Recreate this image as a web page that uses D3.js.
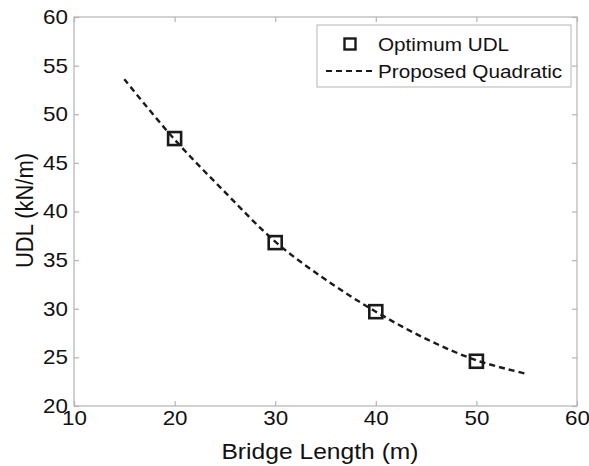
<!DOCTYPE html>
<html><head><meta charset="utf-8">
<script src="https://cdn.jsdelivr.net/npm/d3@7"></script>
<style>body{margin:0;background:#fff}svg{display:block}text{font-family:"Liberation Sans",Arial,sans-serif;fill:#111}</style>
</head><body><svg id="c" width="589" height="466"></svg>
<script>
const markerX = [20, 30, 40, 50];
const markerY = [47.5, 36.8, 29.7, 24.6];
const curveX = [15, 20, 25, 30, 35, 40, 45, 50, 55];
const curveY = [53.6, 47.4, 42.0, 36.9, 33.0, 29.7, 26.9, 24.7, 23.3];
const xTicks = [10, 20, 30, 40, 50, 60];
const yTicks = [20, 25, 30, 35, 40, 45, 50, 55, 60];
const legendLabels = ["Optimum UDL", "Proposed Quadratic"];
const xLabel = "Bridge Length (m)";
const yLabel = "UDL (kN/m)";

const svg = d3.select("#c");
const L = 74, R = 577, T = 17, B = 406;
const SX = 1.12;
const x = d3.scaleLinear().domain([10, 60]).range([L, R]);
const y = d3.scaleLinear().domain([20, 60]).range([B, T]);
const axisCol = "#b4b4b4";

function stretch(sel) {
  sel.each(function () {
    const t = d3.select(this);
    const ax = +t.attr("x") || 0;
    t.attr("transform", `translate(${ax},0) scale(${SX},1) translate(${-ax},0)`);
  });
}

svg.append("rect").attr("x", L).attr("y", T).attr("width", R - L).attr("height", B - T)
  .attr("fill", "none").attr("stroke", axisCol).attr("stroke-width", 1.2);

function styleAxis(g, hideLabels) {
  g.select(".domain").remove();
  g.selectAll(".tick line").attr("stroke", axisCol).attr("stroke-width", 1.2);
  g.selectAll(".tick text").style("font-size", "20px").attr("fill", "#111").call(stretch);
  if (hideLabels) g.selectAll(".tick text").remove();
}
svg.append("g").attr("transform", `translate(0,${B})`)
  .call(d3.axisBottom(x).tickValues(xTicks).tickSize(-5).tickPadding(5).tickFormat(d3.format("d")))
  .call(g => styleAxis(g, false));
svg.append("g").attr("transform", `translate(0,${T})`)
  .call(d3.axisTop(x).tickValues(xTicks).tickSize(-5).tickFormat(""))
  .call(g => styleAxis(g, true));
svg.append("g").attr("transform", `translate(${L},0)`)
  .call(d3.axisLeft(y).tickValues(yTicks).tickSize(-5).tickPadding(6).tickFormat(d3.format("d")))
  .call(g => styleAxis(g, false));
svg.append("g").attr("transform", `translate(${R},0)`)
  .call(d3.axisRight(y).tickValues(yTicks).tickSize(-5).tickFormat(""))
  .call(g => styleAxis(g, true));

svg.append("text").attr("x", 320).attr("y", 459).attr("text-anchor", "middle")
  .style("font-size", "22px").text(xLabel).call(stretch);
svg.append("text").attr("transform", `translate(33,${(T + B) / 2 - 1}) rotate(-90) scale(1,${SX})`).attr("text-anchor", "middle")
  .style("font-size", "22px").text(yLabel);

const curveData = curveX.map((v, i) => [v, curveY[i]]);
const line = d3.line().x(d => x(d[0])).y(d => y(d[1])).curve(d3.curveCatmullRom);
svg.append("path").datum(curveData).attr("d", line).attr("fill", "none")
  .attr("stroke", "#1a1a1a").attr("stroke-width", 2.4).attr("stroke-dasharray", "6,4");

const ms = 13;
svg.selectAll("rect.m").data(markerX.map((v, i) => [v, markerY[i]])).enter().append("rect")
  .attr("class", "m").attr("x", d => x(d[0]) - ms / 2).attr("y", d => y(d[1]) - ms / 2)
  .attr("width", ms).attr("height", ms).attr("fill", "none").attr("stroke", "#1a1a1a").attr("stroke-width", 2.6);

const lg = svg.append("g");
lg.append("rect").attr("x", 317).attr("y", 25).attr("width", 254).attr("height", 62)
  .attr("fill", "#fff").attr("stroke", axisCol).attr("stroke-width", 1);
lg.append("rect").attr("x", 350 - 5.5).attr("y", 44 - 5.5).attr("width", 11).attr("height", 11)
  .attr("fill", "none").attr("stroke", "#1a1a1a").attr("stroke-width", 2.4);
lg.append("line").attr("x1", 326).attr("x2", 375).attr("y1", 71).attr("y2", 71)
  .attr("stroke", "#1a1a1a").attr("stroke-width", 2).attr("stroke-dasharray", "6,4");
lg.selectAll("text.l").data(legendLabels).enter().append("text").attr("class", "l")
  .attr("x", 378).attr("y", (d, i) => 51 + i * 27).style("font-size", "18.5px").text(d => d).call(stretch);
</script></body></html>
